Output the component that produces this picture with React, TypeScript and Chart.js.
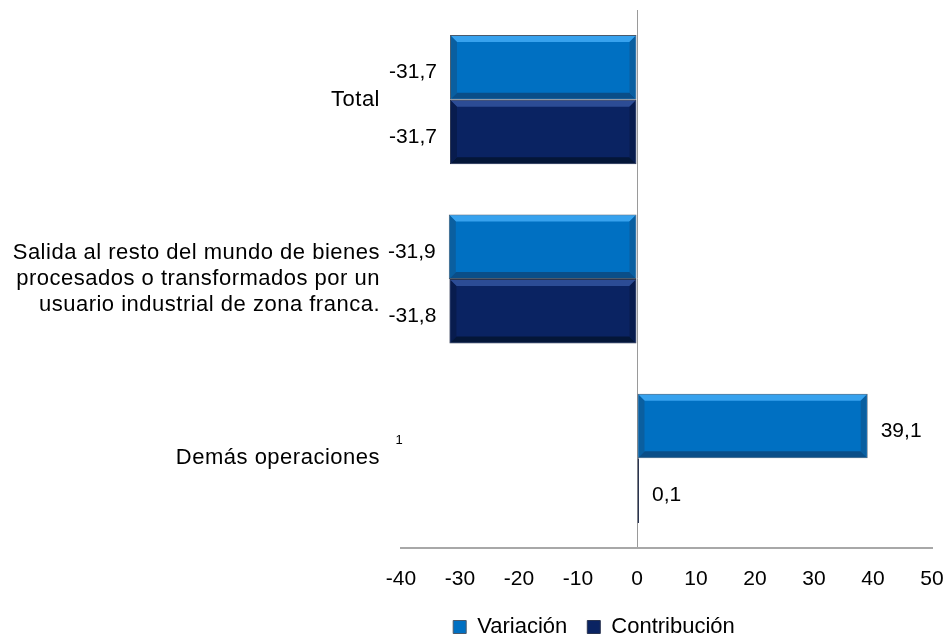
import { useEffect, useRef } from 'react';
import { Chart, registerables } from 'chart.js';

Chart.register(...registerables);

// ---- data ----
const categories: (string | string[])[] = [
  'Total',
  [
    'Salida al resto del mundo de bienes',
    'procesados o transformados por un',
    'usuario industrial de zona franca.',
  ],
  'Demás operaciones',
];
const seriesNames = ['Variación', 'Contribución'];
const variacion = [-31.7, -31.9, 39.1];
const contribucion = [-31.7, -31.8, 0.1];
const xMin = -40;
const xMax = 50;
const xStep = 10;
const footnoteMark = '1';
const footnoteCategoryIndex = 2;

// ---- style ----
const FONT = '"Liberation Sans", Arial, sans-serif';
const COLORS = ['#0070C2', '#0A2362'];
const BORDERS = ['#4A5A6C', '#2A3450'];
const BEVEL = [
  { light: '#37A2EE', dark: '#0A4E88', side: '#0A5FA0' },
  { light: '#2C4C95', dark: '#041638', side: '#081C4E' },
];

const fmt = (v: number) => v.toFixed(1).replace('.', ',');

function poly(ctx: CanvasRenderingContext2D, pts: number[][], color: string) {
  ctx.beginPath();
  ctx.moveTo(pts[0][0], pts[0][1]);
  for (let i = 1; i < pts.length; i++) ctx.lineTo(pts[i][0], pts[i][1]);
  ctx.closePath();
  ctx.fillStyle = color;
  ctx.fill();
}

const bevelPlugin = {
  id: 'bevel',
  afterDatasetsDraw(chart: any) {
    const ctx: CanvasRenderingContext2D = chart.ctx;
    chart.data.datasets.forEach((_ds: any, di: number) => {
      const meta = chart.getDatasetMeta(di);
      const c = BEVEL[di];
      meta.data.forEach((el: any) => {
        const p = el.getProps(['x', 'y', 'base', 'height'], true);
        const l = Math.min(p.x, p.base) + 1;
        const r = Math.max(p.x, p.base) - 1;
        const t = p.y - p.height / 2 + 1;
        const b = p.y + p.height / 2 - 1;
        const w = r - l;
        const h = b - t;
        if (w < 6) return;
        const s = Math.min(6, w / 2, h / 2);
        ctx.save();
        poly(ctx, [[l, t], [r, t], [r - s, t + s], [l + s, t + s]], c.light);
        poly(ctx, [[l, b], [r, b], [r - s, b - s], [l + s, b - s]], c.dark);
        poly(ctx, [[r, t], [r, b], [r - s, b - s], [r - s, t + s]], c.side);
        poly(ctx, [[l, t], [l, b], [l + s, b - s], [l + s, t + s]], c.side);
        ctx.restore();
      });
    });
  },
};

const valueLabelPlugin = {
  id: 'valueLabels',
  afterDatasetsDraw(chart: any) {
    const ctx: CanvasRenderingContext2D = chart.ctx;
    ctx.save();
    ctx.font = `21px ${FONT}`;
    ctx.fillStyle = '#000';
    ctx.textBaseline = 'middle';
    chart.data.datasets.forEach((ds: any, di: number) => {
      const meta = chart.getDatasetMeta(di);
      meta.data.forEach((el: any, i: number) => {
        const v = ds.data[i] as number;
        const p = el.getProps(['x', 'y', 'base'], true);
        const txt = fmt(v);
        if (v < 0) {
          ctx.textAlign = 'right';
          ctx.fillText(txt, Math.min(p.x, p.base) - 13, p.y + 5);
        } else {
          ctx.textAlign = 'left';
          ctx.fillText(txt, Math.max(p.x, p.base) + 13, p.y + 5);
        }
      });
    });
    ctx.restore();
  },
};

const footnotePlugin = {
  id: 'footnote',
  afterDraw(chart: any) {
    const ctx: CanvasRenderingContext2D = chart.ctx;
    const y = chart.scales.y.getPixelForValue(footnoteCategoryIndex);
    ctx.save();
    ctx.font = `13px ${FONT}`;
    ctx.fillStyle = '#000';
    ctx.textAlign = 'center';
    ctx.textBaseline = 'middle';
    ctx.fillText(footnoteMark, chart.chartArea.left - 2, y - 18);
    ctx.restore();
  },
};

const layoutTweakPlugin = {
  id: 'layoutTweak',
  afterLayout(chart: any) {
    const lg = chart.legend;
    if (lg) {
      lg.left += 128;
      lg.right += 128;
      lg.top += 11;
      lg.bottom += 11;
    }
    const ys = chart.scales.y;
    if (ys && !ys.__spaced) {
      const orig = ys.drawLabels.bind(ys);
      ys.drawLabels = (area: any) => {
        const ctx: any = chart.ctx;
        ctx.save();
        ctx.letterSpacing = '0.5px';
        orig(area);
        ctx.restore();
      };
      ys.__spaced = true;
    }
  },
};

export default function App() {
  const ref = useRef<HTMLCanvasElement | null>(null);

  useEffect(() => {
    document.body.style.margin = '0';
    if (!ref.current) return;
    Chart.defaults.font.family = FONT;
    Chart.defaults.color = '#000';

    const chart = new Chart(ref.current, {
      type: 'bar',
      data: {
        labels: categories as any,
        datasets: [
          {
            label: seriesNames[0],
            data: variacion,
            backgroundColor: COLORS[0],
            borderColor: BORDERS[0],
            borderWidth: 1,
            borderSkipped: false,
            minBarLength: 2,
            categoryPercentage: 0.72,
            barPercentage: 1,
          },
          {
            label: seriesNames[1],
            data: contribucion,
            backgroundColor: COLORS[1],
            borderColor: BORDERS[1],
            borderWidth: 1,
            borderSkipped: false,
            minBarLength: 2,
            categoryPercentage: 0.72,
            barPercentage: 1,
          },
        ],
      },
      options: {
        indexAxis: 'y',
        animation: false,
        responsive: false,
        layout: { padding: { top: 10, right: 16, left: 0, bottom: 0 } },
        scales: {
          x: {
            type: 'linear',
            min: xMin,
            max: xMax,
            ticks: {
              stepSize: xStep,
              font: { size: 21 },
              color: '#000',
              padding: 19,
              callback: (v: any) => String(v),
            },
            grid: {
              drawTicks: false,
              color: (c: any) => (c.tick && c.tick.value === 0 ? '#9A9A9A' : 'rgba(0,0,0,0)'),
              lineWidth: 1,
            },
            border: { display: true, color: '#A8A8A8', width: 2 },
            afterFit: (s: any) => {
              s.height = 37;
              s.paddingLeft = 0;
              s.paddingRight = 0;
            },
          },
          y: {
            type: 'category',
            ticks: {
              font: { size: 22, lineHeight: 1.2 },
              color: '#000',
              padding: 21,
            },
            grid: { display: false, drawTicks: false },
            border: { display: false },
            afterFit: (s: any) => {
              s.width = 401;
              s.paddingTop = 0;
              s.paddingBottom = 0;
            },
          },
        },
        plugins: {
          legend: {
            position: 'bottom',
            labels: {
              boxWidth: 13,
              boxHeight: 13,
              padding: 20,
              font: { size: 22 },
              color: '#000',
            },
          },
          tooltip: { enabled: false },
        },
      },
      plugins: [bevelPlugin, valueLabelPlugin, footnotePlugin, layoutTweakPlugin],
    } as any);

    return () => chart.destroy();
  }, []);

  return <canvas ref={ref} width={948} height={637} style={{ display: 'block' }} />;
}
